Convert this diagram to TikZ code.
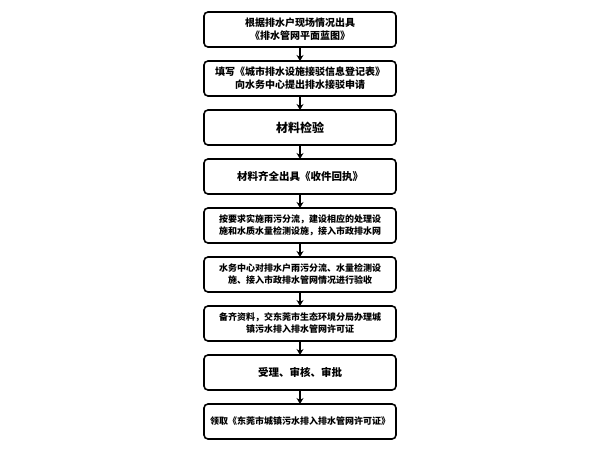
\documentclass[tikz,border=0pt]{standalone}
\usepackage{fontspec}
\newfontfamily\cjk{Noto Sans CJK SC}
\usetikzlibrary{positioning, arrows.meta}

\begin{document}
\begin{tikzpicture}[x=1pt, y=1pt,
                    every node/.style = {font=\cjk\bfseries\fontsize{10}{13}\selectfont, text=black},
                    stepbox/.style = {draw, line width=1.6pt, rounded corners=4pt, fill=white,
                                      minimum width=192pt, minimum height=35pt, outer sep=0pt,
                                      align=center},
                    smalltext/.style = {font=\cjk\bfseries\fontsize{9}{12}\selectfont},
                    bigtext/.style = {font=\cjk\bfseries\fontsize{10.5}{13}\selectfont},
                    every edge/.style = {draw, line width=1.4pt, -{Stealth[length=6pt, width=7pt]}}]
            \useasboundingbox (0,0) rectangle (600,-450);
            \begin{scope}[node distance=14pt]
                \node (plan) [stepbox] at (300,-29.5) {根据排水户现场情况出具\\《排水管网平面蓝图》};
                \node (apply) [stepbox, below = of plan] {填写《城市排水设施接驳信息登记表》\\向水务中心提出排水接驳申请};
                \node (check) [stepbox, font=\cjk\bfseries\fontsize{12}{14}\selectfont, below = of apply] {材料检验};
                \node (receipt) [stepbox, bigtext, below = of check] {材料齐全出具《收件回执》};
                \node (build) [stepbox, smalltext, below = of receipt] {按要求实施雨污分流，建设相应的处理设\\施和水质水量检测设施，接入市政排水网};
                \node (accept) [stepbox, smalltext, below = of build] {水务中心对排水户雨污分流、水量检测设\\施、接入市政排水管网情况进行验收};
                \node (submit) [stepbox, smalltext, below = of accept] {备齐资料，交东莞市生态环境分局办理城\\镇污水排入排水管网许可证};
                \node (review) [stepbox, bigtext, below = of submit] {受理、审核、审批};
                \node (permit) [stepbox, smalltext, below = of review] {领取《东莞市城镇污水排入排水管网许可证》};

                \draw (plan) edge (apply);
                \draw (apply) edge (check);
                \draw (check) edge (receipt);
                \draw (receipt) edge (build);
                \draw (build) edge (accept);
                \draw (accept) edge (submit);
                \draw (submit) edge (review);
                \draw (review) edge (permit);
            \end{scope}
            \end{tikzpicture}
\end{document}
